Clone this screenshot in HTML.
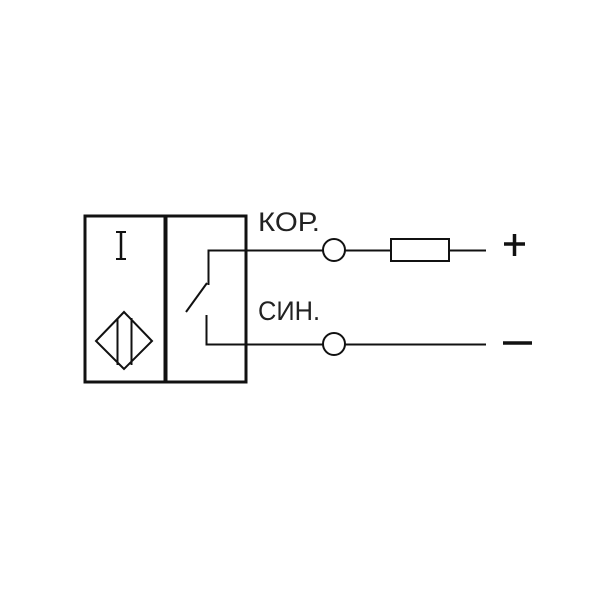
<!DOCTYPE html>
<html><head><meta charset="utf-8"><style>html,body{margin:0;padding:0;background:#fff}</style></head>
<body>
<svg width="600" height="600" viewBox="0 0 600 600" xmlns="http://www.w3.org/2000/svg">
<rect width="600" height="600" fill="#fff"/>
<g fill="none" stroke="#111">
<rect x="85" y="216" width="161" height="166" stroke-width="3"/>
<line x1="165.5" y1="216" x2="165.5" y2="382" stroke-width="4"/>
<polygon points="124,312 152,341 124,369 96,341" stroke-width="2"/>
<line x1="117.5" y1="318" x2="117.5" y2="365" stroke-width="2"/>
<line x1="131.5" y1="318" x2="131.5" y2="365" stroke-width="2"/>
<line x1="121" y1="232" x2="121" y2="259" stroke-width="2.5"/>
<line x1="116" y1="232" x2="126" y2="232" stroke-width="2"/>
<line x1="116" y1="259" x2="126" y2="259" stroke-width="2"/>
<polyline points="208.5,285 208.5,250.5 323,250.5" stroke-width="2"/>
<line x1="207" y1="283" x2="186" y2="312" stroke-width="2"/>
<polyline points="206.5,315 206.5,344.5 323,344.5" stroke-width="2"/>
<circle cx="334" cy="250" r="11" stroke-width="2"/>
<circle cx="334" cy="344" r="11" stroke-width="2"/>
<line x1="345" y1="250.5" x2="391" y2="250.5" stroke-width="2"/>
<rect x="391" y="239" width="58" height="22" stroke-width="2"/>
<line x1="449" y1="250.5" x2="486" y2="250.5" stroke-width="2"/>
<line x1="345" y1="344.5" x2="486" y2="344.5" stroke-width="2"/>
<line x1="504" y1="244" x2="525" y2="244" stroke-width="3.5"/>
<line x1="514.5" y1="234" x2="514.5" y2="256" stroke-width="3.5"/>
<line x1="503" y1="343" x2="532" y2="343" stroke-width="3.5"/>
</g>
<g style="font-family:'Liberation Sans','DejaVu Sans',sans-serif" font-size="27" fill="#222">
<text x="258" y="231" textLength="62" lengthAdjust="spacingAndGlyphs">КОР.</text>
<text x="258" y="320" textLength="62" lengthAdjust="spacingAndGlyphs">СИН.</text>
</g>
</svg>
</body></html>
